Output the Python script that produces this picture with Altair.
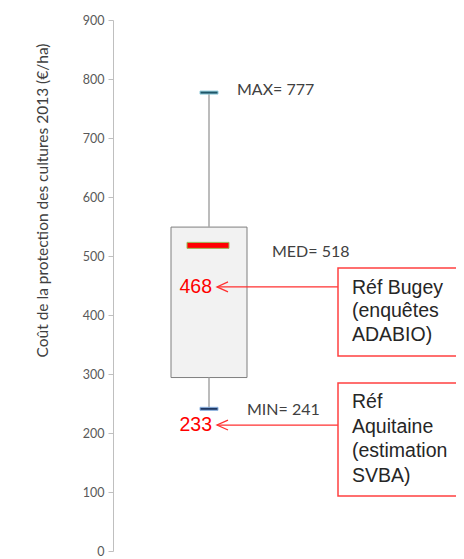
import altair as alt
import pandas as pd

# ---------------- data ----------------
stat_names = ["MIN", "Q1", "MED", "Q3", "MAX"]
stat_values = [241, 294, 518, 549, 777]
ref_values = [468, 233]
ref_texts = [["Réf Bugey", "(enquêtes", "ADABIO)"],
             ["Réf", "Aquitaine", "(estimation", "SVBA)"]]
y_ticks = [0, 100, 200, 300, 400, 500, 600, 700, 800, 900]
y_title = "Coût de la protection des cultures 2013 (€/ha)"

S = dict(zip(stat_names, stat_values))

# ---------------- layout (pixels inside plot) ----------------
W, H = 343, 531
CX = 96
BOX_L, BOX_R = 58, 134
CALLOUT_L = 225
ARROW_TIP = 104

yscale = alt.Scale(domain=[0, 900])
yaxis = alt.Axis(values=y_ticks, grid=False, domainColor="#bfbfbf", tickColor="#bfbfbf",
                 tickSize=5, labelColor="#595959", labelFont="Lato", labelFontSize=12.5,
                 labelPadding=4, title=y_title, titleFont="Lato", titleFontSize=15.5,
                 titleFontWeight="normal", titleColor="#404040", titleX=-71, titleY=180,
                 titleAlign="center", titleBaseline="middle", titleAngle=270)

one = pd.DataFrame({"dummy": [0]})
Y = lambda v: alt.Y(datum=v, scale=yscale, axis=yaxis)

box = alt.Chart(pd.DataFrame({"q1": [S["Q1"]], "q3": [S["Q3"]]})).mark_rect(
    fill="#f2f2f2", stroke="#7f7f7f", strokeWidth=1
).encode(x=alt.value(BOX_L), x2=alt.value(BOX_R),
         y=alt.Y("q3:Q", scale=yscale, axis=yaxis), y2="q1:Q")

whisk = alt.Chart(pd.DataFrame({"lo": [S["Q3"], S["MIN"]], "hi": [S["MAX"], S["Q1"]]})).mark_rule(
    color="#a6a6a6", strokeWidth=1.5
).encode(x=alt.value(CX), y=alt.Y("lo:Q", scale=yscale, axis=yaxis), y2="hi:Q")

cap_max = alt.Chart(one).mark_tick(orient="horizontal", size=18, thickness=3,
                                   color="#1f5568", stroke="#92cddc", strokeWidth=1, opacity=1).encode(
    x=alt.value(CX), y=Y(S["MAX"]))
cap_min = alt.Chart(one).mark_tick(orient="horizontal", size=18, thickness=3,
                                   color="#1f3864", stroke="#8eb4e3", strokeWidth=1, opacity=1).encode(
    x=alt.value(CX), y=Y(S["MIN"]))
med = alt.Chart(one).mark_tick(orient="horizontal", size=42, thickness=6,
                               color="#ff0000", stroke="#9bbb59", strokeWidth=1, opacity=1).encode(
    x=alt.value(CX - 1), y=Y(S["MED"]))

def stat_label(name, x, dy):
    return alt.Chart(one).mark_text(align="left", baseline="middle", dy=dy, font="Lato",
                                    fontSize=16, color="#404040").encode(
        x=alt.value(x), y=Y(S[name]), text=alt.value(f"{name}= {S[name]}"))

labels = [stat_label("MAX", 124, -3), stat_label("MED", 159, 7), stat_label("MIN", 134, 1)]

# reference annotations
ref_layers = []
ref_cfg = [
    dict(dy=12, top=-7, bottom=81, text_dy=13, lh=23.5),
    dict(dy=11.5, top=-30.5, bottom=82.5, text_dy=-11.5, lh=24.5),
]
for v, lines, c in zip(ref_values, ref_texts, ref_cfg):
    num = alt.Chart(one).mark_text(align="right", baseline="middle", dy=c["dy"],
                                   font="Liberation Sans", fontSize=19.5, color="#ff0000").encode(
        x=alt.value(ARROW_TIP - 5), y=Y(v), text=alt.value(str(v)))
    line = alt.Chart(one).mark_rule(color="#ff3030", strokeWidth=1.3, yOffset=c["dy"]).encode(
        x=alt.value(ARROW_TIP), x2=alt.value(CALLOUT_L), y=Y(v))
    head = alt.Chart(one).mark_point(shape="M1,-0.9L-1,0L1,0.9", size=121, filled=False,
                                     color="#ff3030", strokeWidth=1.3, opacity=1,
                                     yOffset=c["dy"]).encode(
        x=alt.value(ARROW_TIP + 5.5), y=Y(v))
    callout = alt.Chart(one).mark_rect(fill="white", stroke="#ff4040", strokeWidth=1.5,
                                       yOffset=c["top"], y2Offset=c["bottom"], clip=True).encode(
        x=alt.value(CALLOUT_L), x2=alt.value(W + 20), y=Y(v), y2=alt.Y2(datum=v))
    txt = alt.Chart(one).mark_text(align="left", baseline="middle", dy=c["text_dy"],
                                   lineHeight=c["lh"], font="Liberation Sans", fontSize=19.5,
                                   color="#262626").encode(
        x=alt.value(CALLOUT_L + 14), y=Y(v), text=alt.value(lines))
    ref_layers += [line, head, num, callout, txt]

chart = alt.layer(box, whisk, cap_max, cap_min, med, *labels, *ref_layers).properties(
    width=W, height=H,
    background="white",
    autosize=alt.AutoSizeParams(type="none"),
    padding={"left": 105, "top": 12, "right": 0, "bottom": 7},
).configure_view(stroke=None)

chart.save("out.html", embed_options={"renderer": "svg", "actions": False})
